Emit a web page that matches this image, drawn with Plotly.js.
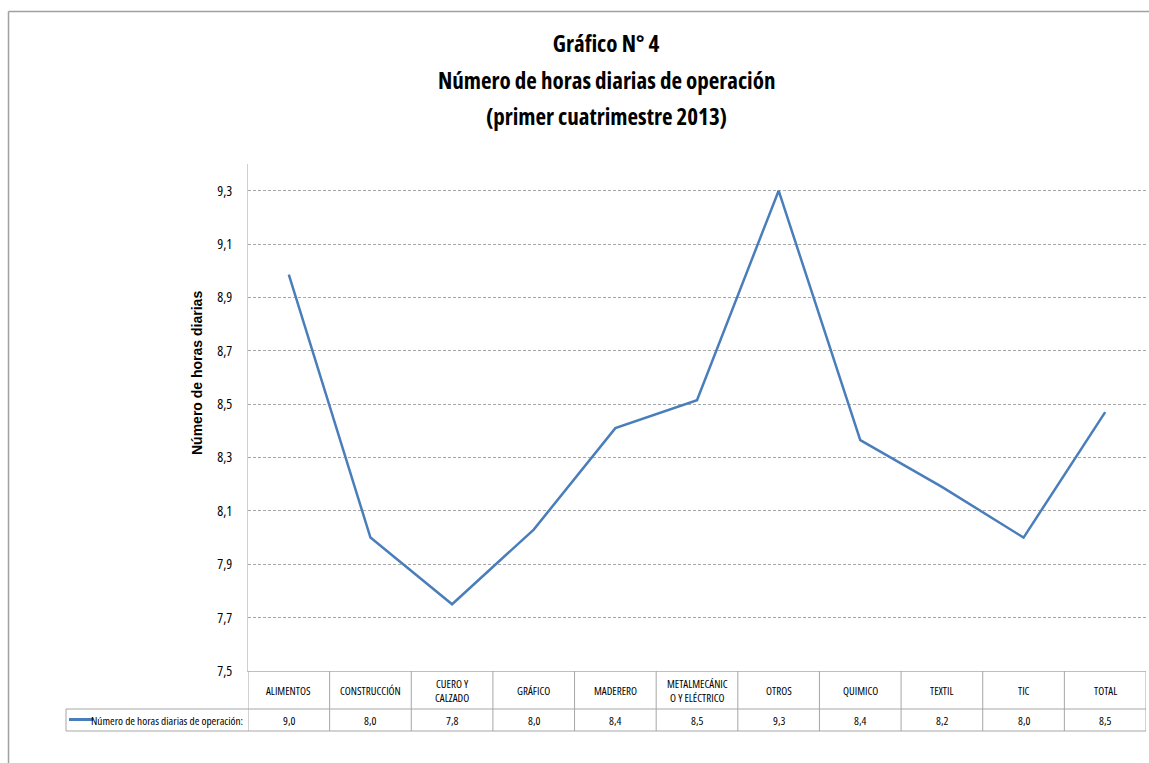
<!DOCTYPE html>
<html>
<head>
<meta charset="utf-8">
<script src="https://cdn.plot.ly/plotly-3.0.1.min.js"></script>
<style>
  html, body { margin: 0; padding: 0; background: #fff; }
  #chart { width: 1149px; height: 763px; }
  text { font-stretch: 75%; }
</style>
</head>
<body>
<div id="chart"></div>
<script>
// ---- data ----
const titleLines = ["Gráfico N° 4", "Número de horas diarias de operación", "(primer cuatrimestre 2013)"];
const categories = ["ALIMENTOS", "CONSTRUCCIÓN", "CUERO Y CALZADO", "GRÁFICO", "MADERERO",
  "METALMECÁNICO Y ELÉCTRICO", "OTROS", "QUIMICO", "TEXTIL", "TIC", "TOTAL"];
const categoryLabels = ["ALIMENTOS", "CONSTRUCCIÓN", "CUERO Y<br>CALZADO", "GRÁFICO", "MADERERO",
  "METALMECÁNIC<br>O Y ELÉCTRICO", "OTROS", "QUIMICO", "TEXTIL", "TIC", "TOTAL"];
const horasDiarias = [8.985, 8.0, 7.75, 8.03, 8.41, 8.515, 9.3, 8.365, 8.19, 8.0, 8.47];
const seriesName = "Número de horas diarias de operación:";
const yAxisTitle = "Número de horas diarias";

// ---- layout helpers (pixel geometry of the page) ----
const W = 1149, H = 763;
const plotL = 248, plotR = 1146, plotT = 164, plotB = 671;
const pw = plotR - plotL, ph = plotB - plotT;
const px = x => (x - plotL) / pw;      // pixel x -> paper x
const py = y => (plotB - y) / ph;      // pixel y -> paper y

const narrow = "Open Sans, Noto Sans, sans-serif";
const gridCol = "#a6a6a6";
const tableCol = "#a6a6a6";
const lineCol = "#4a7ebb";
const titleCenterX = 606;
const titleLineY = [44, 80, 116];

const shapes = [];
const annotations = [];

// outer frame (top and left edges visible)
shapes.push({type: "line", xref: "paper", yref: "paper", x0: px(8.5), x1: px(1175), y0: py(11.5), y1: py(11.5),
  line: {color: "#a0a0a0", width: 1.5}});
shapes.push({type: "line", xref: "paper", yref: "paper", x0: px(8.5), x1: px(8.5), y0: py(11.5), y1: py(800),
  line: {color: "#a0a0a0", width: 1.5}});

// data table grid
const rowMid = 709, rowBot = 731, legL = 66;
for (let i = -1; i < categories.length; i++) {
  shapes.push({type: "line", xref: "x", yref: "paper", x0: i + 0.5, x1: i + 0.5, y0: py(plotB), y1: py(rowBot),
    line: {color: tableCol, width: 1}});
}
shapes.push({type: "line", xref: "paper", yref: "paper", x0: px(legL), x1: 1, y0: py(rowMid), y1: py(rowMid),
  line: {color: tableCol, width: 1}});
shapes.push({type: "line", xref: "paper", yref: "paper", x0: px(legL), x1: 1, y0: py(rowBot), y1: py(rowBot),
  line: {color: tableCol, width: 1}});
shapes.push({type: "line", xref: "paper", yref: "paper", x0: px(legL), x1: px(legL), y0: py(rowMid), y1: py(rowBot),
  line: {color: tableCol, width: 1}});
// legend key inside table
shapes.push({type: "line", xref: "paper", yref: "paper", x0: px(69), x1: px(93), y0: py(719.5), y1: py(719.5),
  line: {color: lineCol, width: 3}});

annotations.push({xref: "paper", yref: "paper", x: px(245), y: py(720), xanchor: "right", yanchor: "middle",
  text: seriesName, showarrow: false, font: {family: narrow, size: 11.3, color: "#000"}});

categories.forEach((c, i) => {
  annotations.push({xref: "x", yref: "paper", x: c, y: py(690), xanchor: "center", yanchor: "middle",
    text: categoryLabels[i], showarrow: false, font: {family: narrow, size: 11, color: "#000"}});
  annotations.push({xref: "x", yref: "paper", x: c, y: py(720), xanchor: "center", yanchor: "middle",
    text: horasDiarias[i].toFixed(1).replace(".", ","), showarrow: false,
    font: {family: narrow, size: 11.5, color: "#000"}});
});

// subtitle lines of the chart title
for (let k = 1; k < titleLines.length; k++) {
  annotations.push({xref: "paper", yref: "paper", x: px(titleCenterX), y: py(titleLineY[k]),
    xanchor: "center", yanchor: "middle", text: "<b>" + titleLines[k] + "</b>", showarrow: false,
    font: {family: narrow, size: 23, color: "#000"}});
}

// y-axis title (rotated)
annotations.push({xref: "paper", yref: "paper", x: px(197), y: py(373), xanchor: "center", yanchor: "middle",
  text: "<b>" + yAxisTitle + "</b>", textangle: -90, showarrow: false,
  font: {family: "Liberation Sans, Arial, sans-serif", size: 14, color: "#000"}});

const trace = {
  type: "scatter", mode: "lines", x: categories, y: horasDiarias, name: seriesName,
  line: {color: lineCol, width: 2.5}, showlegend: false, hoverinfo: "x+y"
};

const layout = {
  width: W, height: H,
  margin: {l: plotL, r: W - plotR, t: plotT, b: H - plotB, pad: 0},
  paper_bgcolor: "#fff", plot_bgcolor: "#fff",
  separators: ",.",
  showlegend: false,
  title: {
    text: "<b>" + titleLines[0] + "</b>",
    font: {family: narrow, size: 23, color: "#000"},
    xref: "container", yref: "container", x: titleCenterX / W, y: 1 - titleLineY[0] / H,
    xanchor: "center", yanchor: "middle"
  },
  xaxis: {
    type: "category", categoryorder: "array", categoryarray: categories,
    range: [-0.5, categories.length - 0.5],
    showticklabels: false, ticks: "", showgrid: false, zeroline: false,
    showline: true, linecolor: "#bfbfbf", linewidth: 1, fixedrange: true
  },
  yaxis: {
    range: [7.5, 9.4], tick0: 7.5, dtick: 0.2, tickformat: ".1f",
    showgrid: true, gridcolor: gridCol, gridwidth: 1, griddash: "3px,2px",
    zeroline: false, showline: true, linecolor: "#d0d0d0", linewidth: 1,
    ticks: "", ticklabelstandoff: 12,
    tickfont: {family: narrow, size: 14, color: "#000"}, fixedrange: true
  },
  shapes: shapes,
  annotations: annotations
};

Plotly.newPlot("chart", [trace], layout, {displayModeBar: false, staticPlot: true});
</script>
</body>
</html>
